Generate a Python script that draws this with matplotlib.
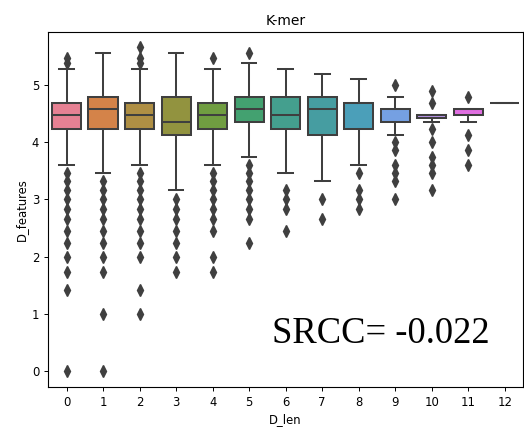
import colorsys
import matplotlib
matplotlib.use("Agg")
import matplotlib.pyplot as plt
import seaborn as sns

# D_len categories and box statistics of D_features per category
categories = [0, 1, 2, 3, 4, 5, 6, 7, 8, 9, 10, 11, 12]
whislo = [3.61, 3.46, 3.61, 3.16, 3.61, 3.74, 3.46, 3.32, 3.61, 4.12, 4.36, 4.36, 4.69]
q1 = [4.24, 4.24, 4.24, 4.12, 4.24, 4.36, 4.24, 4.12, 4.24, 4.36, 4.42, 4.47, 4.69]
med = [4.47, 4.58, 4.47, 4.36, 4.47, 4.58, 4.47, 4.58, 4.69, 4.58, 4.47, 4.58, 4.69]
q3 = [4.69, 4.80, 4.69, 4.80, 4.69, 4.80, 4.80, 4.80, 4.69, 4.58, 4.47, 4.58, 4.69]
whishi = [5.29, 5.57, 5.29, 5.57, 5.29, 5.39, 5.29, 5.20, 5.10, 4.80, 4.47, 4.58, 4.69]
outliers = [
    [5.39, 5.48, 3.46, 3.32, 3.16, 3.00, 2.83, 2.65, 2.45, 2.24, 2.00, 1.73, 1.41, 0.00],
    [3.32, 3.16, 3.00, 2.83, 2.65, 2.45, 2.24, 2.00, 1.73, 1.00, 0.00],
    [5.39, 5.48, 5.66, 3.46, 3.32, 3.16, 3.00, 2.83, 2.65, 2.45, 2.24, 2.00, 1.41, 1.00],
    [3.00, 2.83, 2.65, 2.45, 2.24, 2.00, 1.73],
    [5.48, 3.46, 3.32, 3.16, 3.00, 2.83, 2.65, 2.45, 2.00, 1.73],
    [5.57, 3.61, 3.46, 3.32, 3.16, 3.00, 2.83, 2.65, 2.24],
    [3.16, 3.00, 2.83, 2.45],
    [3.00, 2.65],
    [3.46, 3.16, 3.00, 2.83],
    [5.00, 4.00, 3.87, 3.61, 3.46, 3.32, 3.00],
    [4.90, 4.69, 4.24, 4.00, 3.74, 3.61, 3.46, 3.16],
    [4.80, 4.12, 3.87, 3.61],
    [],
]
srcc_label = "SRCC= -0.022"

# seaborn-style colours: husl palette, desaturated, with a dark gray outline
palette = [sns.desaturate(c, 0.75) for c in sns.color_palette("husl", len(categories))]
lum = min(colorsys.rgb_to_hls(*c)[1] for c in palette) * 0.6
gray = (lum, lum, lum)

stats = []
for i in range(len(categories)):
    stats.append(dict(whislo=whislo[i], q1=q1[i], med=med[i], q3=q3[i],
                      whishi=whishi[i], fliers=outliers[i]))

fig = plt.figure(figsize=(5.24, 4.32), dpi=100)
ax = fig.add_axes([0.0922, 0.1042, 0.906, 0.8218])

lw = 1.45
arts = ax.bxp(stats, positions=range(len(categories)), widths=0.8,
              patch_artist=True, showfliers=True,
              boxprops=dict(edgecolor=gray, linewidth=lw),
              medianprops=dict(color=gray, linewidth=lw),
              whiskerprops=dict(color=gray, linewidth=lw),
              capprops=dict(color=gray, linewidth=lw),
              flierprops=dict(marker="d", markerfacecolor=gray,
                              markeredgecolor=gray, markersize=5.8,
                              linestyle="none"))
for patch, col in zip(arts["boxes"], palette):
    patch.set_facecolor(col)

ax.set_xticks(range(len(categories)))
ax.set_xticklabels([str(c) for c in categories])
ax.set_xlim(-0.5, len(categories) - 0.5)
ax.set_ylim(-0.28, 5.93)
ax.set_yticks([0, 1, 2, 3, 4, 5])
ax.tick_params(labelsize=8.4, length=3.0, width=0.7)
for s in ax.spines.values():
    s.set_linewidth(0.8)

ax.set_title("K-mer", fontsize=10, pad=5)
ax.set_xlabel("D_len", fontsize=8.4, labelpad=3)
ax.set_ylabel("D_features", fontsize=8.4, labelpad=3)

ax.text(0.471, 0.123, srcc_label, transform=ax.transAxes,
        family="Liberation Serif", fontsize=26.3, va="baseline", ha="left")

fig.savefig("out.png", dpi=100)
